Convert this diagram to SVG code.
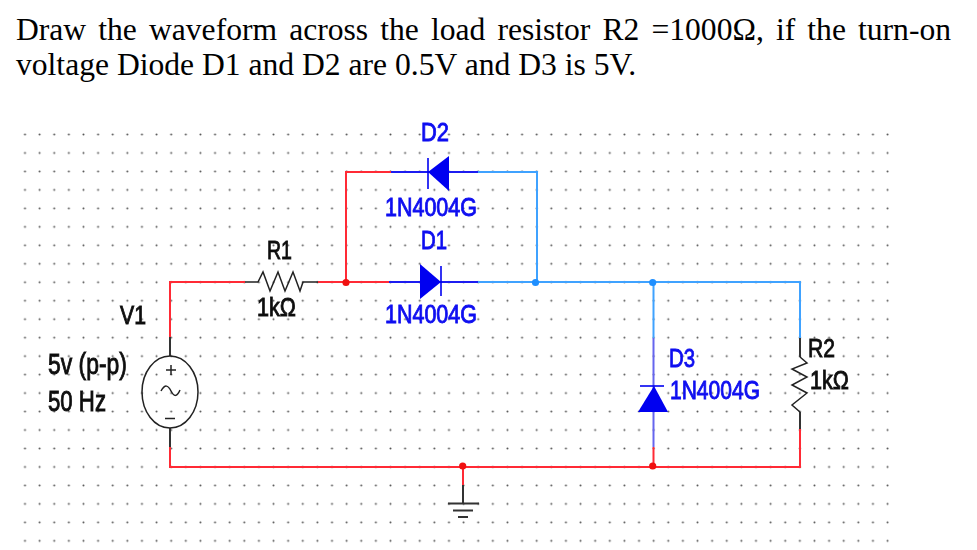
<svg xmlns="http://www.w3.org/2000/svg" width="977" height="550" viewBox="0 0 977 550">
<style>
.title{font-family:"Liberation Serif","Times New Roman",serif;font-size:31.6px;fill:#000}
.lab{font-family:"Liberation Sans",Arial,sans-serif;font-size:26px;stroke-width:.9px;filter:url(#soft)}
.tall{font-size:29px}
.k{fill:#111;stroke:#111}
.b{fill:#0a0af0;stroke:#0a0af0}
.w{fill:none;stroke-width:2}
.red{stroke:#ff2a35}.sky{stroke:#3fa2ff}.blu{stroke:#1c1cf0}.vio{stroke:#6565ee}.blk{stroke:#333}
.thin{fill:none;stroke:#222;stroke-width:1.5}
.dr{fill:#0000f0}
.dbar{stroke:#0000f0;stroke-width:1.6;fill:none}
</style>
<defs>
<filter id="soft" x="-10%" y="-10%" width="120%" height="120%"><feGaussianBlur stdDeviation="0.4"/></filter>
<pattern id="grid" patternUnits="userSpaceOnUse" x="17.69" y="125.27" width="14.62" height="18.47">
<circle cx="7.31" cy="9.235" r="1" fill="#555"/>
</pattern>
</defs>
<rect width="977" height="550" fill="#fff"/>
<rect x="18" y="125" width="880" height="425" fill="url(#grid)"/>
<g id="question">
<text class="title" x="16" y="40" word-spacing="4.2">Draw the waveform across the load resistor R2 =1000Ω, if the turn-on</text>
<text class="title" x="16" y="75">voltage Diode D1 and D2 are 0.5V and D3 is 5V.</text>
</g>
<g id="connectors">
<path class="w red" d="M170 337V282H245"/>
<path class="w red" d="M318 282H391"/>
<path class="w red" d="M346 282V172H391"/>
<path class="w blu" d="M391 172H478"/>
<path class="w sky" d="M478 172H537V282"/>
<path class="w blu" d="M389 282H478"/>
<path class="w sky" d="M478 282H800V338"/>
<path class="w sky" d="M653.500 282V338"/>
<path class="w vio" d="M653.500 338V447"/>
<path class="w red" d="M653.500 447V467"/>
<path class="w red" d="M170 447V467H800V429"/>
<path class="w red" d="M463 467V485"/>
<circle cx="346" cy="282.500" r="3.600" fill="#f01010"/>
<circle cx="535.500" cy="282.500" r="3.600" fill="#1f8fff"/>
<circle cx="652.700" cy="282.500" r="3.600" fill="#1f8fff"/>
<circle cx="652.700" cy="466" r="3.600" fill="#f01010"/>
<circle cx="462.700" cy="466" r="3.600" fill="#f01010"/>
</g>
<g id="V1">
<path class="w blk" d="M170 337V356M170 428V447"/>
<ellipse class="thin" cx="170" cy="392" rx="28" ry="36"/>
<path class="thin" d="M166 370h10M171 365v10M165 418.500h10M161 391c4-7 7-6 10 0s6 6 9-1"/>
<text class="lab k" x="120" y="324" textLength="26" lengthAdjust="spacingAndGlyphs">V1</text>
<text class="lab k tall" x="48" y="374" textLength="79" lengthAdjust="spacingAndGlyphs">5v (p-p)</text>
<text class="lab k tall" x="48" y="411" textLength="58" lengthAdjust="spacingAndGlyphs">50 Hz</text>
</g>
<g id="R1">
<path class="thin" d="M245 282H258L263 272L270 291L278 272L285 291L293 272L300 291L303 282H318"/>
<text class="lab k" x="267" y="259" textLength="25" lengthAdjust="spacingAndGlyphs">R1</text>
<text class="lab k" x="257" y="316" textLength="39" lengthAdjust="spacingAndGlyphs">1kΩ</text>
</g>
<g id="D2">
<path class="dr" d="M428 172L449 156V191Z"/>
<path class="dbar" d="M428 158V189"/>
<text class="lab b" x="421" y="141" textLength="28" lengthAdjust="spacingAndGlyphs">D2</text>
<text class="lab b" x="385" y="216" textLength="92" lengthAdjust="spacingAndGlyphs">1N4004G</text>
</g>
<g id="D1">
<path class="dr" d="M441 282L420 264V299Z"/>
<path class="dbar" d="M441 266V296"/>
<text class="lab b" x="421" y="249" textLength="26" lengthAdjust="spacingAndGlyphs">D1</text>
<text class="lab b" x="385" y="323" textLength="92" lengthAdjust="spacingAndGlyphs">1N4004G</text>
</g>
<g id="D3">
<path class="dr" d="M654 386L668 412H638Z"/>
<path class="dbar" d="M640 386H664"/>
<text class="lab b" x="669" y="367" textLength="26" lengthAdjust="spacingAndGlyphs">D3</text>
<text class="lab b" x="670" y="399" textLength="90" lengthAdjust="spacingAndGlyphs">1N4004G</text>
</g>
<g id="R2">
<path class="w blk" d="M800 338V357M800 412V429"/>
<path class="thin" d="M800 357L807 363L792 369L807 377L792 385L807 393L792 405L800 412"/>
<text class="lab k" x="808" y="357" textLength="27" lengthAdjust="spacingAndGlyphs">R2</text>
<text class="lab k" x="810" y="389" textLength="39" lengthAdjust="spacingAndGlyphs">1kΩ</text>
</g>
<g id="ground">
<path class="w blk" d="M463 485V503"/>
<path d="M448 503.500H479M453 510.500H473M458 517H468" fill="none" stroke="#333" stroke-width="2"/>
</g>
</svg>
